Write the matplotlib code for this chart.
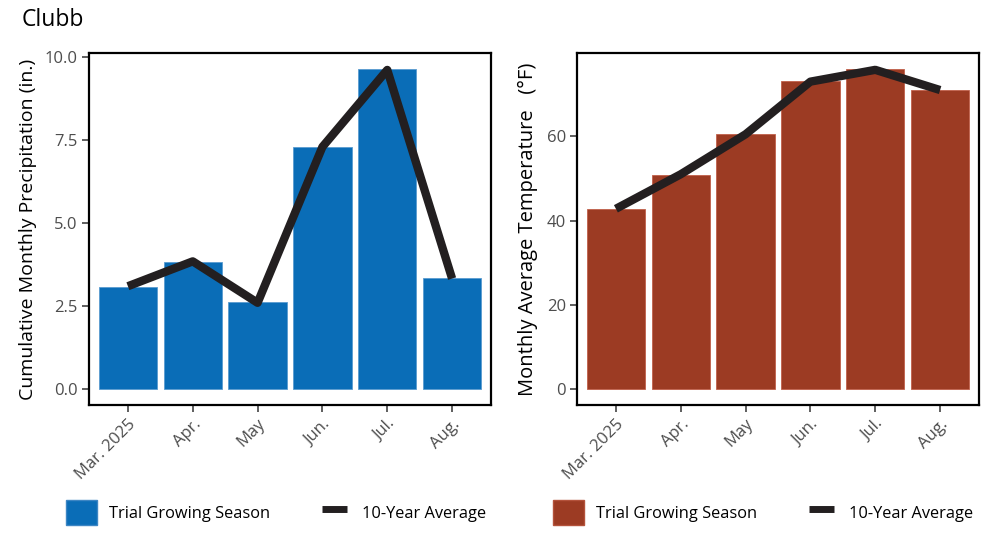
import matplotlib
matplotlib.use("Agg")
import matplotlib.pyplot as plt
from matplotlib.patches import Patch
from matplotlib.lines import Line2D
from matplotlib.legend_handler import HandlerBase
import numpy as np

plt.rcParams['font.family'] = ['Open Sans', 'DejaVu Sans']

months = ["Mar. 2025", "Apr.", "May", "Jun.", "Jul.", "Aug."]
precip_season = [3.08, 3.84, 2.63, 7.30, 9.64, 3.35]
precip_avg = [3.10, 3.85, 2.60, 7.30, 9.62, 3.33]
temp_season = [42.7, 50.8, 60.5, 73.1, 76.0, 71.0]
temp_avg = [42.8, 51.0, 60.5, 73.0, 75.8, 71.0]
legend_labels = ["Trial Growing Season", "10-Year Average"]

blue = "#0A6DB7"
red = "#9C3B23"
linec = "#231F20"
tickc = "#4D4D4D"

W, H = 1000, 533
fig = plt.figure(figsize=(10, 5.33), dpi=100)
ax1 = fig.add_axes([89 / W, 1 - 405 / H, 402 / W, 352 / H])
ax2 = fig.add_axes([577 / W, 1 - 405 / H, 402 / W, 352 / H])

x = np.arange(len(months))

def style(ax, ylabel, fs=14):
    for s in ax.spines.values():
        s.set_linewidth(1.6)
        s.set_color("black")
    ax.tick_params(axis='both', length=5, width=1.1, color="#333333",
                   labelcolor=tickc, labelsize=12, direction='out', pad=3)
    ax.set_xticks(x)
    ax.set_xticklabels(months, rotation=45, ha='right', rotation_mode='anchor')
    ax.set_xlim(-0.6, len(months) - 0.4)
    ax.set_ylabel(ylabel, fontsize=fs, color="black", labelpad=6)

ax1.bar(x, precip_season, width=0.9, color=blue, edgecolor="#5A9BD0", linewidth=0.6, zorder=2)
ax1.plot(x, precip_avg, color=linec, linewidth=6, solid_capstyle='butt', zorder=3)
ax1.set_ylim(-0.48, 10.13)
ax1.set_yticks([0, 2.5, 5, 7.5, 10])
ax1.set_yticklabels(["0.0", "2.5", "5.0", "7.5", "10.0"])
style(ax1, "Cumulative Monthly Precipitation (in.)")

ax2.bar(x, temp_season, width=0.9, color=red, edgecolor="#C0604A", linewidth=0.6, zorder=2)
ax2.plot(x, temp_avg, color=linec, linewidth=6, solid_capstyle='butt', zorder=3)
ax2.set_ylim(-3.8, 79.8)
ax2.set_yticks([0, 20, 40, 60])
style(ax2, "Monthly Average Temperature   (°F)", fs=14.5)

fig.text(22 / W, 1 - 20 / H, "Clubb", fontsize=16.5, va='center', ha='left')


class ShortLine(HandlerBase):
    def create_artists(self, legend, orig_handle, xdescent, ydescent,
                       width, height, fontsize, trans):
        y = (height - ydescent) / 2
        inset = width * 0.1
        ln = Line2D([-xdescent + inset, -xdescent + width - inset], [y, y],
                    color=orig_handle.get_color(), linewidth=orig_handle.get_linewidth(),
                    solid_capstyle='butt', transform=trans)
        return [ln]


fs = 11.8
fs_px = fs * 100 / 72
hl = 31 / fs_px
pad = 12 / fs_px
ycen = 1 - 512.5 / H

entries = [
    (Patch(facecolor=blue, edgecolor="#3D86C4"), legend_labels[0], 66),
    (Line2D([0], [0], color=linec, linewidth=5), legend_labels[1], 319),
    (Patch(facecolor=red, edgecolor="#B4523B"), legend_labels[0], 553),
    (Line2D([0], [0], color=linec, linewidth=5), legend_labels[1], 806),
]
for h, lab, xpx in entries:
    leg = fig.legend([h], [lab], loc='center left', bbox_to_anchor=(xpx / W, ycen),
                     frameon=False, fontsize=fs, handlelength=hl, handleheight=hl,
                     handletextpad=pad, borderpad=0, borderaxespad=0,
                     handler_map={Line2D: ShortLine()})

fig.savefig("out.png", dpi=100)
